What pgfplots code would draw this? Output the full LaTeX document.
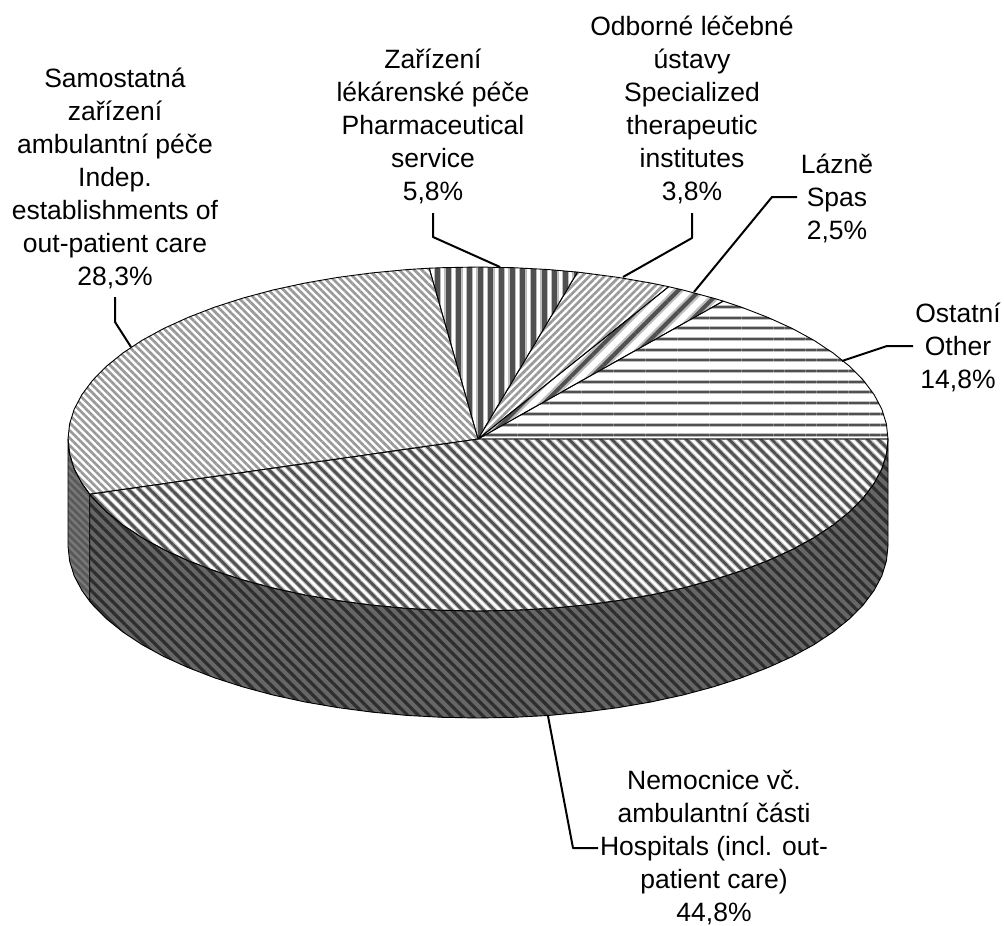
\documentclass[border=0pt]{standalone}
\usepackage{fontspec}
\setmainfont{Liberation Sans}
\usepackage{pgfplots}
\usepackage{pgfplotstable}
\pgfplotsset{compat=1.18}
\usetikzlibrary{patterns.meta}
% shares: Ostatni 14.8, Lazne 2.5, Odborne 3.8, Zarizeni 5.8, Samostatna 28.3, Nemocnice 44.8
\pgfplotstableread{
x y
478 439
888 439
886.4 424.0
881.8 409.1
874.0 394.5
863.3 380.2
849.6 366.3
833.1 353.0
813.9 340.3
792.1 328.4
767.9 317.4
741.5 307.2
723.2 301.1
478 439
}\tOst
\pgfplotstableread{
x y
478 439
723.2 301.1
713.2 298.1
683.0 290.0
668.7 286.7
478 439
}\tLaz
\pgfplotstableread{
x y
478 439
668.7 286.7
651.3 283.1
618.2 277.4
584.1 272.9
577.5 272.1
478 439
}\tOdb
\pgfplotstableread{
x y
478 439
577.5 272.1
549.2 269.6
513.8 267.7
478 267
442.2 267.7
429.2 268.2
478 439
}\tZar
\pgfplotstableread{
x y
478 439
429.2 268.2
406.8 269.6
371.9 272.9
337.8 277.4
304.7 283.1
273 290
242.8 298.1
214.5 307.2
188.1 317.4
163.9 328.4
142.1 340.3
122.9 353.0
106.4 366.3
92.7 380.2
82.0 394.5
74.2 409.1
69.6 424.0
68 439
69.6 454.0
74.2 468.9
82.0 483.5
89.7 494.2
478 439
}\tSam
\pgfplotstableread{
x y
478 439
89.7 494.2
92.7 497.8
106.4 511.7
122.9 525
142.1 537.7
163.9 549.6
188.1 560.6
214.5 570.8
242.8 579.9
273 588
304.7 594.9
337.8 600.6
371.9 605.1
406.8 608.4
442.2 610.3
478 611
513.8 610.3
549.2 608.4
584.1 605.1
618.2 600.6
651.3 594.9
683 588
713.2 579.9
741.5 570.8
767.9 560.6
792.1 549.6
813.9 537.7
833.1 525
849.6 511.7
863.3 497.8
874 483.5
881.8 468.9
886.4 454
888 439
478 439
}\tNem
\pgfplotstableread{
x y
68 439
69.6 454.0
74.2 468.9
82.0 483.5
89.7 494.2
89.7 601.2
82.0 590.5
74.2 575.9
69.6 561.0
68 546
68 439
}\tSideL
\pgfplotstableread{
x y
89.7 494.2
92.7 497.8
106.4 511.7
122.9 525
142.1 537.7
163.9 549.6
188.1 560.6
214.5 570.8
242.8 579.9
273 588
304.7 594.9
337.8 600.6
371.9 605.1
406.8 608.4
442.2 610.3
478 611
513.8 610.3
549.2 608.4
584.1 605.1
618.2 600.6
651.3 594.9
683 588
713.2 579.9
741.5 570.8
767.9 560.6
792.1 549.6
813.9 537.7
833.1 525
849.6 511.7
863.3 497.8
874 483.5
881.8 468.9
886.4 454
888 439
888 546
886.4 561
881.8 575.9
874 590.5
863.3 604.8
849.6 618.7
833.1 632
813.9 644.7
792.1 656.6
767.9 667.6
741.5 677.8
713.2 686.9
683 695
651.3 701.9
618.2 707.6
584.1 712.1
549.2 715.4
513.8 717.3
478 718
442.2 717.3
406.8 715.4
371.9 712.1
337.8 707.6
304.7 701.9
273 695
242.8 686.9
214.5 677.8
188.1 667.6
163.9 656.6
142.1 644.7
122.9 632
106.4 618.7
92.7 604.8
89.7 601.2
89.7 494.2
}\tSideN
\newcommand\base[2]{\addplot[draw=none,fill=#1] table {#2};}
\newcommand\lay[5]{\addplot[draw=none,pattern={Lines[angle=#2,distance=#3pt,line width=#4pt]},pattern color=#1] table {#5};}
\newcommand\edge[1]{\addplot[draw=black,line width=0.9pt,line join=round] table {#1};}
\newcommand\lead[1]{\addplot[draw=black,line width=2pt,line join=round] coordinates {#1};}
\definecolor{gA}{HTML}{BEBEBE}
\definecolor{gB}{HTML}{9A9A9A}
\definecolor{gD}{HTML}{505050}
\tikzset{lab/.style={align=center,font=\fontsize{26.5}{33}\selectfont,inner sep=0pt}}
\begin{document}
\begin{tikzpicture}
\begin{axis}[
  scale only axis,width=1004pt,height=926pt,
  xmin=0,xmax=1004,ymin=0,ymax=926,y dir=reverse,
  hide axis,clip=false,
  every axis plot/.append style={no markers},
]
% sides
\base{gray!95!black}{\tSideL}
\lay{black!65}{-45}{5.33}{2.8}{\tSideL}
\edge{\tSideL}
\base{black!60}{\tSideN}
\lay{black!82}{-45}{7.54}{3.2}{\tSideN}
\edge{\tSideN}
% top: Ostatni
\lay{gA}{0}{10.67}{4}{\tOst}
\lay{gD}{0}{10.67}{2}{\tOst}
\edge{\tOst}
% Lazne
\lay{gA}{45}{15.1}{8.5}{\tLaz}
\lay{gD}{45}{15.1}{4}{\tLaz}
\edge{\tLaz}
% Odborne
\lay{gB}{45}{5.33}{2.7}{\tOdb}
\edge{\tOdb}
% Zarizeni
\lay{gA}{90}{10.67}{7.6}{\tZar}
\lay{gD}{90}{10.67}{5}{\tZar}
\edge{\tZar}
% Samostatna
\lay{gB}{-45}{5.33}{2.7}{\tSam}
\edge{\tSam}
% Nemocnice
\lay{gA}{-45}{7.54}{5}{\tNem}
\lay{gD}{-45}{7.54}{2.8}{\tNem}
\edge{\tNem}
% leaders
\lead{(115,297) (115,322) (131,347)}
\lead{(433,213) (433,237) (500,267)}
\lead{(692,213) (692,238) (623,277)}
\lead{(797,197) (772,197) (694,292)}
\lead{(913,346) (887,346) (842,361)}
\lead{(598,848) (573,848) (548,716)}
% labels
\node[lab] at (axis cs:115,178) {Samostatná\\zařízení\\ambulantní péče\\Indep.\\establishments of\\out-patient care\\28,3\%};
\node[lab] at (axis cs:433,126) {Zařízení\\lékárenské péče\\Pharmaceutical\\service\\5,8\%};
\node[lab] at (axis cs:692,110) {Odborné léčebné\\ústavy\\Specialized\\therapeutic\\institutes\\3,8\%};
\node[lab] at (axis cs:837,198) {Lázně\\Spas\\2,5\%};
\node[lab] at (axis cs:958,347) {Ostatní\\Other\\14,8\%};
\node[lab] at (axis cs:714,848) {Nemocnice vč.\\ambulantní části\\Hospitals (incl. out-\\patient care)\\44,8\%};
\end{axis}
\pgfresetboundingbox
\path[use as bounding box] (current axis.south west) rectangle (current axis.north east);
\end{tikzpicture}
\end{document}
